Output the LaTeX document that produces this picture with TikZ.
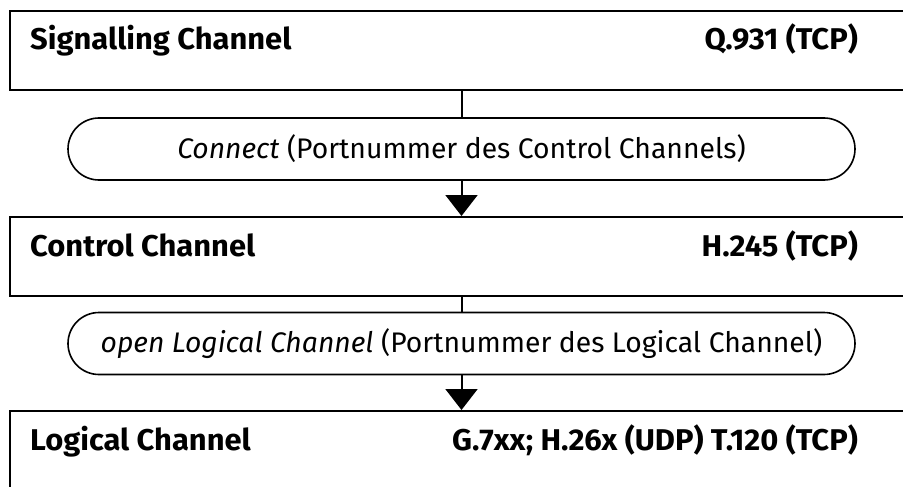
\documentclass[tikz,border=0pt]{standalone}
\usepackage{fontspec}
\setmainfont{Fira Sans}
\newfontfamily\lblfam{Fira Sans}[FakeStretch=1.03]
\usetikzlibrary{shapes.misc,arrows.meta}
\begin{document}
\begin{tikzpicture}[x=1pt,y=-1pt,
  chanbox/.style={draw,line width=2pt,rectangle,anchor=north west,inner sep=0pt,minimum width=920pt,minimum height=79pt},
  pill/.style={draw,line width=1.6pt,rounded rectangle,inner sep=0pt,minimum width=787pt,minimum height=62pt,font=\fontsize{28.3}{34}\selectfont},
  lbl/.style={inner sep=0pt,font=\lblfam\fontsize{30}{36}\selectfont\bfseries},
  conn/.style={line width=2pt},
  arr/.style={line width=2pt,-{Triangle[width=32pt,length=21pt]}}]
\useasboundingbox (0,0) rectangle (903,487);
\clip (0,0) rectangle (903,487);
\node[chanbox] (sig) at (9,10) {};
\node[chanbox] (ctl) at (9,216) {};
\node[chanbox,minimum height=120pt] (log) at (9,410) {};
\node[pill] (p1) at (461.5,149) {\textit{Connect} (Portnummer des Control Channels)};
\node[pill] (p2) at (461.5,343.5) {\textit{open Logical Channel} (Portnummer des Logical Channel)};
\node[lbl,anchor=base west] (t1) at (30,50) {Signalling Channel};
\node[lbl,anchor=base east] (r1) at (858,50) {Q.931 (TCP)};
\node[lbl,anchor=base west] (t2) at (30,256) {Control Channel};
\node[lbl,anchor=base east] (r2) at (858,256) {H.245 (TCP)};
\node[lbl,anchor=base west] (t3) at (30,450) {Logical Channel};
\node[lbl,anchor=base east] (r3) at (858,450) {G.7xx; H.26x (UDP) T.120 (TCP)};
\draw[conn] (sig.south -| p1.north) -- (p1.north);
\draw[arr] (p1.south) -- (p1.south |- ctl.north);
\draw[conn] (ctl.south -| p2.north) -- (p2.north);
\draw[arr] (p2.south) -- (p2.south |- log.north);
\end{tikzpicture}
\end{document}
